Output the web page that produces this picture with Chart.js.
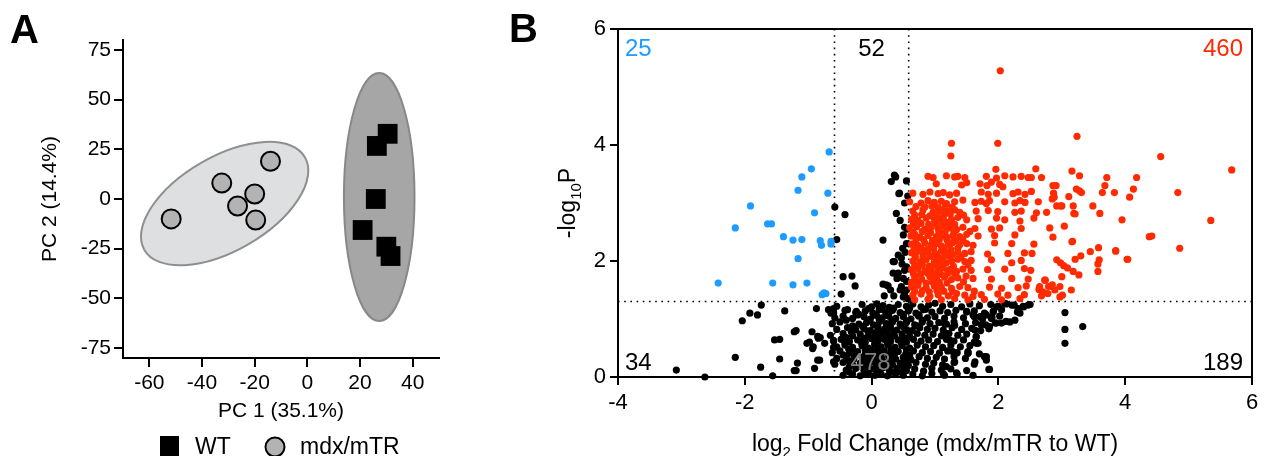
<!DOCTYPE html>
<html lang="en">
<head>
<meta charset="UTF-8">
<title>PCA and volcano plot</title>
<style>
  body { margin: 0; background: #fff; }
  .panel { position: absolute; top: 0; }
  #pcaWrap { left: 0; width: 470px; height: 456px; }
  #volcanoWrap { left: 480px; width: 788px; height: 456px; }
</style>
</head>
<body>
<div id="pcaWrap" class="panel"><canvas id="pcaChart" width="470" height="456"></canvas></div>
<div id="volcanoWrap" class="panel"><canvas id="volcanoChart" width="788" height="456"></canvas></div>

<script src="https://cdn.jsdelivr.net/npm/chart.js"></script>
<script>
// ---------- panel A: PCA ----------
const pcaXTicks = [-60, -40, -20, 0, 20, 40];
const pcaYTicks = [-75, -50, -25, 0, 25, 50, 75];
const legendLabels = ['WT', 'mdx/mTR'];
const wtPoints = [[30.5, 32.8], [26.4, 26.7], [26, 0], [21, -15.6], [30, -24], [31.6, -28.7]];
const mdxPoints = [[-14, 19], [-32.5, 8], [-20, 2.5], [-26.5, -3.5], [-19.6, -10.6], [-51.7, -10]];
// cx, cy, rx (x units), ry (y units), tilt in degrees
const mdxEllipse = [-31.4, -2.3, 35.2, 23.7, 30];
const wtEllipse = [27.3, 1.0, 13.4, 62.4, 0];

// ---------- panel B: volcano ----------
const volcanoXTicks = [-4, -2, 0, 2, 4, 6];
const volcanoYTicks = [0, 2, 4, 6];
const pThreshold = 1.301;   // -log10(0.05)
const fcThreshold = 0.585;  // log2(1.5)
const countsTop = [25, 52, 460];
const countsBottom = [34, 478, 189];

const downPoints = [
  [-0.67, 3.88], [-0.95, 3.59], [-1.10, 3.45], [-1.16, 3.22], [-0.69, 3.17], [-1.91, 2.95], [-0.90, 2.83],
  [-2.15, 2.57], [-1.64, 2.64], [-1.58, 2.64], [-1.39, 2.42], [-1.24, 2.36], [-1.10, 2.37], [-0.81, 2.35],
  [-0.79, 2.27], [-0.64, 2.34], [-0.64, 2.29], [-1.16, 2.04], [-2.42, 1.62], [-1.56, 1.62], [-1.24, 1.59],
  [-1.02, 1.62], [-0.78, 1.42], [-0.72, 1.44], [-0.75, 1.45]
];

const upPoints = [
  // sparse right side
  [2.03, 5.28], [3.24, 4.15], [4.56, 3.80], [5.68, 3.57], [4.83, 3.18], [5.35, 2.70], [4.38, 2.42], [4.42, 2.43],
  [4.86, 2.22], [3.95, 2.71], [4.03, 2.03], [3.85, 2.18], [4.18, 3.44], [4.13, 3.24], [4.07, 3.10], [3.83, 3.18],
  [3.71, 3.44], [3.68, 3.30], [3.64, 3.18], [3.49, 2.95], [3.60, 2.82], [3.58, 2.23], [3.59, 2.02], [3.57, 1.95],
  [3.57, 1.82], [3.45, 2.16], [3.30, 2.09], [3.27, 1.76], [3.18, 1.82], [3.16, 2.33], [3.04, 2.60], [2.86, 2.41],
  [2.81, 2.57], [3.21, 2.81], [3.18, 2.95], [3.28, 3.21], [3.23, 3.24], [3.28, 3.47], [3.16, 3.55], [3.11, 3.11],
  [3.00, 2.95], [2.92, 2.95], [2.91, 3.30], [2.98, 1.97], [3.03, 1.92], [3.09, 1.88], [2.92, 2.02], [3.00, 1.73],
  [2.97, 1.56], [3.01, 1.41], [2.97, 1.38], [3.15, 1.50], [2.74, 1.67], [2.79, 1.56], [2.70, 1.47], [2.64, 1.51],
  [2.68, 1.40], [2.85, 1.59], [2.78, 1.44], [2.76, 2.84], [2.86, 3.30], [2.85, 3.07], [2.59, 3.59], [2.68, 3.44],
  [2.52, 3.44], [2.52, 3.20], [2.63, 3.02], [2.60, 2.83], [2.56, 2.74], [2.87, 3.17], [2.88, 3.10], [2.98, 2.95],
  [3.31, 3.18], [3.19, 2.82], [3.17, 2.34], [2.56, 2.29], [2.53, 2.13], [2.51, 1.84], [2.73, 1.67], [2.65, 1.56],
  [2.84, 1.56], [2.89, 1.50], [3.21, 2.03], [3.85, 2.17], [4.04, 2.03],
  // main cloud
  [1.26, 4.03], [1.99, 4.03], [1.25, 3.81], [1.96, 3.58],
  [0.89, 3.46], [0.97, 3.44], [1.18, 3.47], [1.31, 3.45], [1.36, 3.46], [1.47, 3.44], [1.81, 3.46], [1.97, 3.43],
  [2.10, 3.47], [2.23, 3.45], [2.36, 3.46], [2.47, 3.44],
  [1.02, 3.33], [1.42, 3.31], [1.50, 3.35], [1.71, 3.33], [1.82, 3.30], [1.89, 3.36], [2.02, 3.32], [2.07, 3.28],
  [0.65, 3.17], [0.81, 3.15], [0.92, 3.19], [1.05, 3.16], [1.13, 3.18], [1.23, 3.14], [1.34, 3.17], [1.73, 3.19],
  [1.84, 3.15], [1.97, 3.17], [2.23, 3.16], [2.31, 3.19], [2.42, 3.15],
  [0.60, 3.02], [0.78, 3.00], [0.89, 3.04], [0.99, 3.01], [1.10, 3.03], [1.18, 2.99], [1.31, 3.02], [1.44, 3.05],
  [1.63, 3.01], [1.73, 3.03], [1.81, 2.99], [1.86, 3.04], [2.10, 3.02], [2.26, 3.00], [2.34, 3.04], [2.42, 3.01],
  [0.70, 2.94], [0.84, 2.93], [0.95, 2.95], [1.05, 2.92], [1.16, 2.94], [1.27, 2.93],
  [0.65, 2.86], [0.81, 2.88], [0.97, 2.84], [1.10, 2.87], [1.20, 2.85], [1.31, 2.88], [1.39, 2.84], [1.65, 2.86],
  [1.84, 2.87], [1.99, 2.85], [2.26, 2.84], [2.36, 2.86],
  [0.68, 2.79], [0.79, 2.80], [0.92, 2.78], [1.03, 2.80], [1.14, 2.79], [1.24, 2.81], [1.45, 2.79],
  [0.63, 2.72], [0.73, 2.70], [0.86, 2.74], [0.99, 2.71], [1.07, 2.73], [1.15, 2.69], [1.26, 2.72], [1.36, 2.75],
  [1.50, 2.71], [1.68, 2.73], [1.97, 2.74], [2.10, 2.71], [2.34, 2.69],
  [0.66, 2.64], [0.78, 2.65], [0.90, 2.63], [1.01, 2.65], [1.12, 2.64], [1.22, 2.66], [1.31, 2.63],
  [0.60, 2.57], [0.71, 2.59], [0.84, 2.55], [0.94, 2.58], [1.05, 2.56], [1.13, 2.60], [1.23, 2.57], [1.34, 2.54],
  [1.44, 2.58], [1.63, 2.56], [1.89, 2.55], [2.02, 2.57], [2.36, 2.56],
  [0.65, 2.50], [0.80, 2.51], [0.93, 2.49], [1.06, 2.51], [1.16, 2.50], [1.30, 2.49], [1.55, 2.51],
  [0.62, 2.43], [0.68, 2.46], [0.76, 2.41], [0.89, 2.44], [1.02, 2.42], [1.10, 2.45], [1.18, 2.41], [1.28, 2.44],
  [1.39, 2.42], [1.50, 2.46], [1.68, 2.43], [1.94, 2.44], [2.26, 2.45],
  [0.70, 2.36], [0.82, 2.37], [0.96, 2.35], [1.07, 2.37], [1.19, 2.36], [1.33, 2.35], [1.44, 2.37],
  [0.63, 2.29], [0.73, 2.27], [0.84, 2.31], [0.94, 2.28], [1.02, 2.30], [1.10, 2.26], [1.21, 2.29], [1.28, 2.32],
  [1.39, 2.28], [1.50, 2.30], [1.60, 2.27], [1.94, 2.31], [2.21, 2.30],
  [0.67, 2.21], [0.78, 2.22], [0.88, 2.20], [0.98, 2.22], [1.14, 2.21], [1.25, 2.20], [1.36, 2.22],
  [0.63, 2.14], [0.71, 2.16], [0.81, 2.12], [0.89, 2.15], [1.00, 2.13], [1.10, 2.17], [1.18, 2.14], [1.28, 2.11],
  [1.36, 2.15], [1.47, 2.13], [1.57, 2.16], [1.83, 2.12], [2.15, 2.13], [2.41, 2.14],
  [0.69, 2.07], [0.81, 2.06], [0.93, 2.08], [1.04, 2.07], [1.13, 2.06], [1.23, 2.08], [1.41, 2.07],
  [0.65, 2.00], [0.76, 1.98], [0.86, 2.02], [0.99, 1.99], [1.07, 2.01], [1.18, 1.97], [1.26, 2.00], [1.36, 2.03],
  [1.47, 1.99], [1.57, 2.01], [1.89, 2.02], [2.21, 1.97], [2.36, 2.01],
  [0.68, 1.92], [0.80, 1.93], [0.91, 1.91], [1.01, 1.93], [1.11, 1.92], [1.29, 1.91], [1.52, 1.93],
  [0.63, 1.85], [0.73, 1.87], [0.84, 1.83], [0.94, 1.86], [1.05, 1.84], [1.13, 1.88], [1.23, 1.85], [1.34, 1.82],
  [1.44, 1.86], [1.57, 1.84], [1.83, 1.85], [2.10, 1.86], [2.41, 1.87],
  [0.66, 1.78], [0.77, 1.77], [0.88, 1.79], [0.99, 1.78], [1.09, 1.77], [1.20, 1.79], [1.31, 1.78],
  [0.68, 1.71], [0.79, 1.69], [0.92, 1.73], [1.02, 1.70], [1.15, 1.72], [1.26, 1.68], [1.36, 1.71], [1.49, 1.74],
  [1.60, 1.70], [1.89, 1.69], [2.21, 1.70], [2.47, 1.69],
  [0.63, 1.63], [0.74, 1.64], [0.86, 1.62], [0.96, 1.64], [1.07, 1.63], [1.19, 1.62], [1.45, 1.64],
  [0.63, 1.55], [0.73, 1.58], [0.86, 1.54], [0.99, 1.57], [1.10, 1.55], [1.26, 1.53], [1.39, 1.56], [1.52, 1.54],
  [1.86, 1.55], [2.05, 1.53], [2.31, 1.54], [2.44, 1.57],
  [0.68, 1.48], [0.80, 1.49], [0.91, 1.47], [1.03, 1.49], [1.14, 1.48], [1.28, 1.47], [1.62, 1.48],
  [0.65, 1.41], [0.78, 1.43], [0.92, 1.39], [1.05, 1.42], [1.21, 1.40], [1.34, 1.44], [1.47, 1.41], [1.60, 1.39],
  [1.73, 1.42], [1.99, 1.43], [2.15, 1.41], [2.41, 1.42],
  [0.68, 1.33], [0.89, 1.34], [1.10, 1.33], [1.31, 1.35], [1.52, 1.33], [1.78, 1.34], [2.05, 1.33], [2.34, 1.35]
];

const nsPoints = [
  // sparse left and upper column
  [-0.58, 2.93], [-0.42, 2.80], [-0.55, 2.37], [0.18, 2.36], [0.31, 3.37], [0.38, 3.45], [0.43, 3.16], [0.39, 2.82],
  [-0.45, 1.73], [-0.31, 1.74], [-0.26, 1.57], [-0.48, 1.43], [0.18, 1.60], [0.26, 1.57], [0.34, 1.79], [0.34, 1.99],
  [-1.74, 1.24], [-1.92, 1.10], [-1.80, 1.07], [-2.04, 0.97], [-1.37, 1.14], [-0.87, 1.18], [-0.60, 1.18], [-0.60, 1.10],
  [-1.22, 0.78], [-1.19, 0.80], [-1.53, 0.64], [-1.45, 0.65], [-0.94, 0.78], [-0.98, 0.60], [-0.92, 0.52], [-0.85, 0.70],
  [-0.81, 0.68], [-2.15, 0.34], [-1.45, 0.31], [-1.75, 0.17], [-1.19, 0.11], [-1.17, 0.24], [-0.90, 0.15], [-0.82, 0.29],
  [-3.08, 0.12], [-2.63, 0.00], [-1.56, 0.02], [-0.60, 0.63], [-0.60, 0.51], [-0.60, 0.26],
  [-0.68, 1.16], [-0.64, 1.10], [-0.38, 1.16], [-0.24, 1.13], [-0.22, 1.07], [-0.84, 0.67], [-0.74, 0.58],
  [-1.02, 0.58], [-0.93, 0.49], [-0.85, 0.29], [-1.22, 0.11],
  [0.36, 3.48], [0.55, 3.38], [0.44, 3.17], [0.57, 3.12], [0.52, 2.58], [0.56, 2.55], [0.49, 2.22], [0.36, 1.99],
  [0.47, 2.05], [0.52, 1.84], [0.42, 1.79], [0.23, 1.59], [0.47, 1.56], [0.52, 1.44], [0.45, 2.70], [0.50, 2.45],
  [0.55, 2.30], [0.53, 2.15], [0.48, 1.95], [0.55, 1.90], [0.40, 1.70], [0.50, 1.70], [0.55, 1.65], [0.30, 1.50],
  [0.45, 1.50], [0.55, 1.50], [0.20, 1.40], [0.35, 1.40], [0.50, 1.38], [0.57, 1.35], [0.42, 2.10], [0.52, 3.00],
  // right of the cloud
  [3.05, 1.11], [3.33, 0.87], [3.05, 0.82], [3.05, 0.58], [1.86, 0.13], [1.81, 0.35], [1.65, 0.58], [1.52, 0.41],
  [1.34, 0.07], [1.97, 1.21], [2.10, 1.27], [2.21, 1.24], [2.31, 1.18], [2.39, 1.22], [2.47, 1.24], [2.34, 1.10],
  [2.26, 0.98], [2.18, 0.95], [1.81, 1.07], [1.89, 1.01], [1.97, 0.93], [2.05, 0.93], [1.86, 0.87], [1.71, 1.04],
  [1.60, 1.07], [1.73, 0.90], [1.92, 1.13], [1.50, 1.13], [1.63, 0.81], [1.65, 0.69], [1.68, 0.58], [1.52, 0.41],
  [1.63, 0.26], [1.78, 0.35], [1.81, 0.29], [1.60, 0.03], [1.28, 0.44], [1.31, 0.26], [1.18, 0.18], [1.13, 0.06],
  [1.18, 0.75], [1.23, 0.64], [1.15, 0.92], [1.31, 0.89],
  // dense cloud
  [-0.55, 1.22], [-0.15, 1.25], [0.00, 1.21], [0.08, 1.26], [0.18, 1.23], [0.28, 1.20], [0.42, 1.25], [0.55, 1.22],
  [0.65, 1.26], [0.78, 1.21], [0.90, 1.24], [1.00, 1.27], [1.12, 1.22], [1.25, 1.25], [1.42, 1.21], [1.55, 1.26],
  [1.70, 1.23], [1.88, 1.25], [2.00, 1.22], [2.12, 1.26], [2.25, 1.24], [2.40, 1.21], [2.50, 1.25],
  [-0.60, 1.12], [-0.42, 1.15], [-0.25, 1.11], [-0.10, 1.14], [0.02, 1.10], [0.12, 1.16], [0.22, 1.12], [0.33, 1.15],
  [0.45, 1.11], [0.58, 1.14], [0.70, 1.10], [0.82, 1.16], [0.95, 1.12], [1.08, 1.14], [1.20, 1.11], [1.33, 1.15],
  [1.50, 1.12], [1.62, 1.14], [1.78, 1.10], [1.92, 1.13], [2.05, 1.16], [2.30, 1.12],
  [-0.58, 1.02], [-0.45, 1.05], [-0.30, 1.01], [-0.12, 1.04], [-0.02, 1.00], [0.08, 1.06], [0.17, 1.02], [0.27, 1.05],
  [0.38, 1.01], [0.50, 1.04], [0.62, 1.00], [0.74, 1.05], [0.88, 1.02], [1.00, 1.04], [1.15, 1.01], [1.30, 1.05],
  [1.45, 1.02], [1.62, 1.04], [1.75, 1.00], [1.90, 1.03], [2.02, 1.05],
  [-0.62, 0.92], [-0.50, 0.95], [-0.20, 0.91], [-0.08, 0.94], [0.03, 0.90], [0.13, 0.96], [0.23, 0.92], [0.33, 0.95],
  [0.45, 0.91], [0.55, 0.94], [0.68, 0.90], [0.80, 0.95], [0.92, 0.92], [1.06, 0.94], [1.18, 0.91], [1.30, 0.95],
  [1.48, 0.92], [1.64, 0.94], [1.80, 0.90], [1.95, 0.93], [2.12, 0.96],
  [-0.55, 0.82], [-0.38, 0.85], [-0.25, 0.81], [-0.12, 0.84], [-0.02, 0.80], [0.10, 0.86], [0.20, 0.82], [0.30, 0.85],
  [0.40, 0.81], [0.52, 0.84], [0.64, 0.80], [0.76, 0.85], [0.88, 0.82], [1.00, 0.84], [1.13, 0.81], [1.27, 0.85],
  [1.42, 0.82], [1.58, 0.84], [1.72, 0.80], [1.85, 0.83],
  [-0.65, 0.72], [-0.45, 0.75], [-0.30, 0.71], [-0.18, 0.74], [-0.05, 0.70], [0.05, 0.76], [0.15, 0.72], [0.25, 0.75],
  [0.36, 0.71], [0.48, 0.74], [0.60, 0.70], [0.72, 0.75], [0.84, 0.72], [0.97, 0.74], [1.10, 0.71], [1.22, 0.75],
  [1.36, 0.72], [1.50, 0.74], [1.65, 0.70],
  [-0.60, 0.62], [-0.48, 0.65], [-0.35, 0.61], [-0.22, 0.64], [-0.10, 0.60], [0.00, 0.66], [0.10, 0.62], [0.20, 0.65],
  [0.30, 0.61], [0.42, 0.64], [0.55, 0.60], [0.66, 0.65], [0.78, 0.62], [0.90, 0.64], [1.04, 0.61], [1.18, 0.65],
  [1.30, 0.62], [1.45, 0.64], [1.62, 0.60],
  [-0.55, 0.52], [-0.42, 0.55], [-0.30, 0.51], [-0.15, 0.54], [-0.05, 0.50], [0.05, 0.56], [0.15, 0.52], [0.26, 0.55],
  [0.37, 0.51], [0.48, 0.54], [0.60, 0.50], [0.72, 0.55], [0.85, 0.52], [0.98, 0.54], [1.12, 0.51], [1.25, 0.55],
  [1.40, 0.52], [1.55, 0.54],
  [-0.62, 0.42], [-0.50, 0.45], [-0.35, 0.41], [-0.22, 0.44], [-0.10, 0.40], [0.00, 0.46], [0.10, 0.42], [0.20, 0.45],
  [0.30, 0.41], [0.42, 0.44], [0.54, 0.40], [0.66, 0.45], [0.80, 0.42], [0.93, 0.44], [1.07, 0.41], [1.20, 0.45],
  [1.35, 0.42], [1.52, 0.44], [1.70, 0.40],
  [-0.55, 0.32], [-0.40, 0.35], [-0.28, 0.31], [-0.15, 0.34], [-0.04, 0.30], [0.06, 0.36], [0.16, 0.32], [0.27, 0.35],
  [0.38, 0.31], [0.50, 0.34], [0.62, 0.30], [0.75, 0.35], [0.88, 0.32], [1.02, 0.34], [1.15, 0.31], [1.30, 0.35],
  [1.48, 0.32], [1.80, 0.34],
  [-0.58, 0.22], [-0.45, 0.25], [-0.30, 0.21], [-0.18, 0.24], [-0.08, 0.20], [0.02, 0.26], [0.12, 0.22], [0.22, 0.25],
  [0.33, 0.21], [0.45, 0.24], [0.58, 0.20], [0.70, 0.25], [0.85, 0.22], [0.98, 0.24], [1.12, 0.21], [1.30, 0.25],
  [1.62, 0.22],
  [-0.40, 0.12], [-0.25, 0.15], [-0.12, 0.11], [-0.02, 0.14], [0.08, 0.10], [0.18, 0.16], [0.28, 0.12], [0.40, 0.15],
  [0.55, 0.11], [0.68, 0.14], [0.82, 0.10], [0.95, 0.15], [1.10, 0.12], [1.25, 0.14], [1.50, 0.11], [1.85, 0.13],
  [-0.45, 0.03], [-0.30, 0.05], [-0.18, 0.02], [-0.05, 0.06], [0.05, 0.03], [0.15, 0.05], [0.25, 0.02], [0.38, 0.06],
  [0.50, 0.03], [0.65, 0.05], [0.80, 0.02], [0.95, 0.06], [1.15, 0.03], [1.35, 0.05],
  // fill in the densest part
  [-0.35, 0.08], [-0.10, 0.07], [0.10, 0.09], [0.32, 0.08], [0.45, 0.09],
  [-0.35, 0.18], [-0.13, 0.19], [0.07, 0.17], [0.27, 0.18], [0.50, 0.19],
  [-0.36, 0.28], [-0.10, 0.27], [0.10, 0.29], [0.32, 0.28], [0.55, 0.27],
  [-0.45, 0.38], [-0.28, 0.39], [-0.05, 0.37], [0.15, 0.38], [0.36, 0.39], [0.60, 0.37],
  [-0.36, 0.48], [-0.10, 0.47], [0.10, 0.49], [0.31, 0.48], [0.55, 0.47],
  [-0.42, 0.58], [-0.16, 0.59], [0.05, 0.57], [0.25, 0.58], [0.47, 0.59],
  [-0.40, 0.68], [-0.12, 0.67], [0.10, 0.69], [0.30, 0.68], [0.52, 0.67],
  [-0.32, 0.78], [-0.06, 0.79], [0.15, 0.77], [0.35, 0.78], [0.58, 0.79],
  [-0.30, 0.88], [-0.14, 0.87], [0.08, 0.89], [0.28, 0.88], [0.50, 0.87], [0.72, 0.88],
  [-0.40, 0.98], [-0.05, 0.97], [0.12, 0.99], [0.32, 0.98], [0.55, 0.97], [0.80, 0.98],
  [-0.20, 1.08], [0.05, 1.07], [0.27, 1.09], [0.50, 1.08], [0.75, 1.07],
  [-0.05, 1.18], [0.13, 1.17], [0.35, 1.19], [0.60, 1.18], [0.85, 1.17]
];

const FONT = "'Liberation Sans', Arial, Helvetica, sans-serif";
const RED = '#FF2A00';
const BLUE = '#1E9BFF';

const toXY = arr => arr.map(p => ({ x: p[0], y: p[1] }));
const fixedTicks = list => scale => { scale.ticks = list.map(v => ({ value: v })); };

// ellipses behind the PCA points, legend and panel letter on top
const pcaDecor = {
  id: 'pcaDecor',
  beforeDatasetsDraw(chart) {
    const { ctx, scales: { x, y } } = chart;
    const kx = Math.abs(x.getPixelForValue(1) - x.getPixelForValue(0));
    const ky = Math.abs(y.getPixelForValue(1) - y.getPixelForValue(0));
    const drawEllipse = (e, fill, stroke) => {
      ctx.save();
      ctx.beginPath();
      ctx.ellipse(x.getPixelForValue(e[0]), y.getPixelForValue(e[1]), e[2] * kx, e[3] * ky, -e[4] * Math.PI / 180, 0, Math.PI * 2);
      ctx.fillStyle = fill;
      ctx.fill();
      ctx.lineWidth = 2;
      ctx.strokeStyle = stroke;
      ctx.stroke();
      ctx.restore();
    };
    drawEllipse(mdxEllipse, '#dedfe0', '#8f8f8f');
    drawEllipse(wtEllipse, '#a6a6a6', '#888888');
  },
  afterDraw(chart) {
    const ctx = chart.ctx;
    ctx.save();
    ctx.fillStyle = '#000';
    ctx.font = `bold 40px ${FONT}`;
    ctx.textBaseline = 'alphabetic';
    ctx.fillText('A', 10, 43);

    // legend
    ctx.fillRect(160, 436, 19, 20);
    ctx.beginPath();
    ctx.arc(275, 447, 9.5, 0, Math.PI * 2);
    ctx.fillStyle = '#b3b3b3';
    ctx.fill();
    ctx.lineWidth = 2;
    ctx.strokeStyle = '#000';
    ctx.stroke();
    ctx.fillStyle = '#000';
    ctx.font = `23px ${FONT}`;
    ctx.fillText(legendLabels[0], 195, 454);
    ctx.fillText(legendLabels[1], 300, 454);
    ctx.restore();
  }
};

const volcanoDecor = {
  id: 'volcanoDecor',
  beforeDatasetsDraw(chart) {
    const { ctx, chartArea: a, scales: { x, y } } = chart;
    ctx.save();
    ctx.strokeStyle = '#000';
    ctx.lineWidth = 1.6;
    ctx.setLineDash([1.6, 4.6]);
    const yp = y.getPixelForValue(pThreshold);
    ctx.beginPath();
    ctx.moveTo(a.left, yp); ctx.lineTo(a.right, yp);
    [-fcThreshold, fcThreshold].forEach(v => {
      const xp = x.getPixelForValue(v);
      ctx.moveTo(xp, a.top); ctx.lineTo(xp, a.bottom);
    });
    ctx.stroke();
    ctx.restore();
  },
  afterDatasetsDraw(chart) {
    const { ctx, chartArea: a, scales: { x } } = chart;
    ctx.save();
    // closing box
    ctx.strokeStyle = '#000';
    ctx.lineWidth = 2;
    ctx.beginPath();
    ctx.moveTo(a.left, a.top); ctx.lineTo(a.right, a.top); ctx.lineTo(a.right, a.bottom);
    ctx.stroke();

    // quadrant counts
    ctx.font = `24px ${FONT}`;
    ctx.textBaseline = 'alphabetic';
    const mid = x.getPixelForValue(0);
    const topY = a.top + 27, botY = a.bottom - 7;
    const put = (txt, px, py, align, color) => {
      ctx.fillStyle = color; ctx.textAlign = align; ctx.fillText(String(txt), px, py);
    };
    put(countsTop[0], a.left + 7, topY, 'left', BLUE);
    put(countsTop[1], mid, topY, 'center', '#000');
    put(countsTop[2], a.right - 9, topY, 'right', RED);
    put(countsBottom[0], a.left + 7, botY, 'left', '#000');
    put(countsBottom[1], mid - 1, botY, 'center', '#7f7f7f');
    put(countsBottom[2], a.right - 9, botY, 'right', '#000');
    ctx.restore();
  },
  afterDraw(chart) {
    const { ctx, chartArea: a } = chart;
    const main = `23px ${FONT}`, sub = `15px ${FONT}`;
    const runs = (parts) => {
      let w = 0;
      parts.forEach(p => { ctx.font = p[1] ? sub : main; w += ctx.measureText(p[0]).width; });
      return w;
    };
    const drawRuns = (parts, startX) => {
      let cx = startX;
      parts.forEach(p => {
        ctx.font = p[1] ? sub : main;
        ctx.fillText(p[0], cx, p[1] ? 6 : 0);
        cx += ctx.measureText(p[0]).width;
      });
    };
    ctx.save();
    ctx.fillStyle = '#000';
    ctx.textAlign = 'left';
    ctx.textBaseline = 'alphabetic';

    // x title
    const xParts = [['log', 0], ['2', 1], [' Fold Change (mdx/mTR to WT)', 0]];
    ctx.save();
    ctx.translate((a.left + a.right) / 2, 451);
    drawRuns(xParts, -runs(xParts) / 2);
    ctx.restore();

    // y title
    const yParts = [['-log', 0], ['10', 1], ['P', 0]];
    ctx.save();
    ctx.translate(95, (a.top + a.bottom) / 2);
    ctx.rotate(-Math.PI / 2);
    drawRuns(yParts, -runs(yParts) / 2);
    ctx.restore();

    ctx.font = `bold 40px ${FONT}`;
    ctx.fillText('B', 29, 42);
    ctx.restore();
  }
};

const axisStyle = (size, tickLen, pad) => ({
  type: 'linear',
  border: { display: true, color: '#000', width: 2 },
  grid: { drawOnChartArea: false, drawTicks: true, tickLength: tickLen, color: '#000', lineWidth: 2 },
  ticks: { color: '#000', font: { family: FONT, size: size }, padding: pad, includeBounds: false }
});

new Chart(document.getElementById('pcaChart'), {
  type: 'scatter',
  data: {
    datasets: [
      { label: legendLabels[0], data: toXY(wtPoints), pointStyle: 'rect', pointRadius: 14, backgroundColor: '#000', borderColor: '#000', borderWidth: 0 },
      { label: legendLabels[1], data: toXY(mdxPoints), pointStyle: 'circle', pointRadius: 9.5, backgroundColor: '#b3b3b3', borderColor: '#000', borderWidth: 2 }
    ]
  },
  options: {
    responsive: false,
    devicePixelRatio: 1,
    animation: false,
    layout: { padding: { left: 0, top: 40, right: 31, bottom: 0 } },
    plugins: { legend: { display: false }, tooltip: { enabled: false } },
    scales: {
      x: Object.assign(axisStyle(21, 9, 4), {
        min: -70, max: 50,
        afterBuildTicks: fixedTicks(pcaXTicks),
        afterFit: s => { s.height = 98; },
        title: { display: true, text: 'PC 1 (35.1%)', color: '#000', font: { family: FONT, size: 21 }, padding: { top: 0, bottom: 32 } }
      }),
      y: Object.assign(axisStyle(21, 9, 3), {
        min: -80, max: 80,
        afterBuildTicks: fixedTicks(pcaYTicks),
        afterFit: s => { s.width = 123; },
        title: { display: true, text: 'PC 2 (14.4%)', color: '#000', font: { family: FONT, size: 21 }, padding: { top: 38, bottom: 0 } }
      })
    }
  },
  plugins: [pcaDecor]
});

new Chart(document.getElementById('volcanoChart'), {
  type: 'scatter',
  data: {
    datasets: [
      { label: 'up', data: toXY(upPoints), backgroundColor: RED, pointRadius: 3.6, borderWidth: 0, clip: false },
      { label: 'down', data: toXY(downPoints), backgroundColor: BLUE, pointRadius: 3.6, borderWidth: 0, clip: false },
      { label: 'ns', data: toXY(nsPoints), backgroundColor: '#000', pointRadius: 3.6, borderWidth: 0, clip: false }
    ]
  },
  options: {
    responsive: false,
    devicePixelRatio: 1,
    animation: false,
    layout: { padding: { left: 0, top: 29, right: 16, bottom: 0 } },
    plugins: { legend: { display: false }, tooltip: { enabled: false } },
    scales: {
      x: Object.assign(axisStyle(22, 8, 5), {
        min: -4, max: 6,
        afterBuildTicks: fixedTicks(volcanoXTicks),
        afterFit: s => { s.height = 79; }
      }),
      y: Object.assign(axisStyle(22, 8, 4), {
        min: 0, max: 6,
        afterBuildTicks: fixedTicks(volcanoYTicks),
        afterFit: s => { s.width = 138; }
      })
    }
  },
  plugins: [volcanoDecor]
});
</script>
</body>
</html>
